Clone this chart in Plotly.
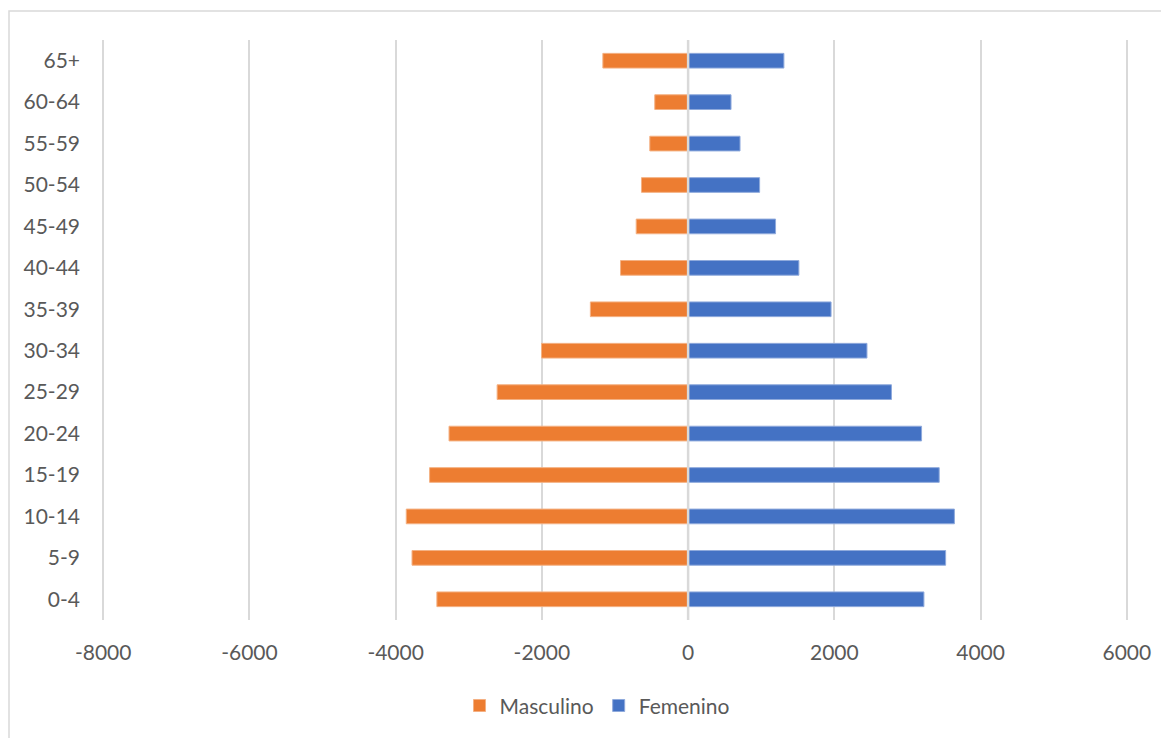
import plotly.graph_objects as go

categories = ["0-4", "5-9", "10-14", "15-19", "20-24", "25-29", "30-34",
              "35-39", "40-44", "45-49", "50-54", "55-59", "60-64", "65+"]
masculino = [-3436, -3776, -3855, -3536, -3270, -2612, -2005,
             -1337, -924, -710, -638, -524, -456, -1166]
femenino = [3225, 3522, 3642, 3434, 3193, 2781, 2446,
            1955, 1515, 1196, 978, 710, 587, 1310]
tick_vals = [-8000, -6000, -4000, -2000, 0, 2000, 4000, 6000]
tick_text = ["-8000", "-6000", "-4000", "-2000", "0", "2000", "4000", "6000"]

FONT = "Lato, 'Open Sans', sans-serif"
GRAY = "#595959"
FS = 21

fig = go.Figure()
fig.add_trace(go.Bar(
    y=categories, x=masculino, orientation="h", name="Masculino",
    marker=dict(color="#ED7D31", line=dict(color="#F4B183", width=1)),
))
fig.add_trace(go.Bar(
    y=categories, x=femenino, orientation="h", name="Femenino",
    marker=dict(color="#4472C4", line=dict(color="#8FAADC", width=1)),
))

W, H = 1161, 730
ml, mr, mt, mb = 93, 40, 32, 118
pw, ph = W - ml - mr, H - mt - mb

fig.update_layout(
    width=W, height=H,
    margin=dict(l=ml, r=mr, t=mt, b=mb, pad=0),
    paper_bgcolor="white", plot_bgcolor="white",
    barmode="relative", bargap=0.645,
    font=dict(family=FONT, size=FS, color=GRAY),
    showlegend=True,
    legend=dict(orientation="h", x=0.483, xanchor="center", y=-0.148, yanchor="middle",
                font=dict(family=FONT, size=FS, color=GRAY),
                itemwidth=30, traceorder="normal"),
    xaxis=dict(range=[-8030, 6030], tickvals=tick_vals, ticktext=tick_text,
               showgrid=True, gridcolor="#D9D9D9", gridwidth=1.5,
               zeroline=False, showline=False, ticks="",
               ticklabelstandoff=18, tickfont=dict(size=FS, color=GRAY)),
    yaxis=dict(type="category", showgrid=False, zeroline=False, showline=False,
               ticks="", ticklabelstandoff=20, tickfont=dict(size=FS, color=GRAY)),
    shapes=[
        dict(type="line", xref="x", yref="paper", x0=0, x1=0, y0=0, y1=1,
             line=dict(color="#D9D9D9", width=2.5), layer="above"),
        dict(type="rect", xref="paper", yref="paper",
             x0=(1 - ml) / pw, x1=(W + 20 - ml) / pw,
             y0=-(H + 20 - mt - ph) / ph, y1=1 + (mt - 3) / ph,
             line=dict(color="#D9D9D9", width=1.5), layer="below"),
    ],
)

fig.write_html("out.html")
